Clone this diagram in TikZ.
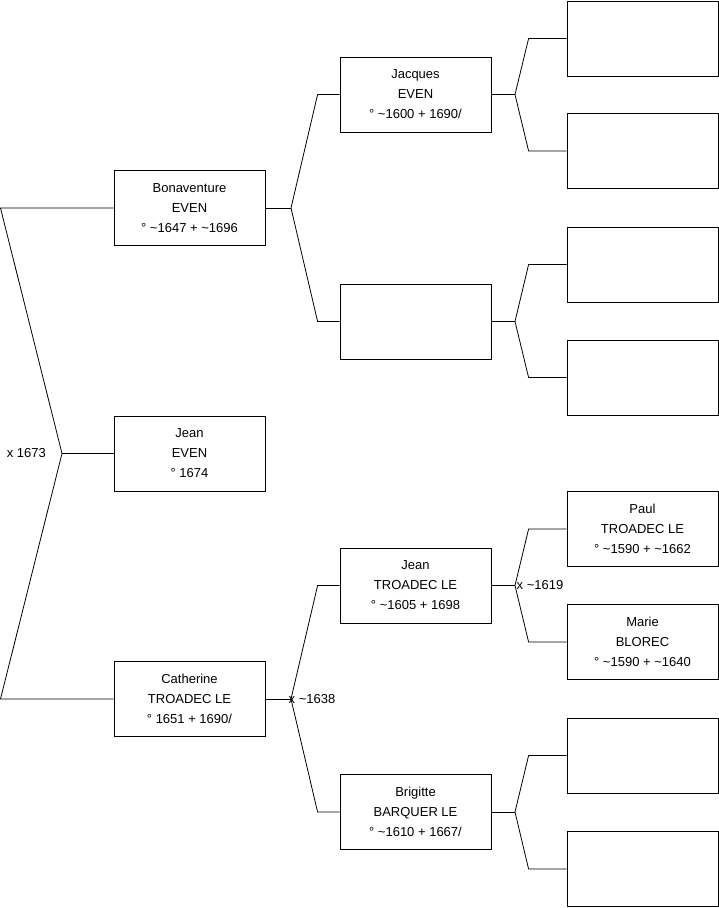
\documentclass[tikz,border=0pt]{standalone}
\usepackage{fontspec}
\setmainfont{Liberation Sans}
\usetikzlibrary{positioning}
\newcommand{\ca}{\textasciitilde}

\begin{document}
\begin{tikzpicture}[
    x=1pt, y=-1pt,
    person/.style={
        rectangle, draw, line width=0.8pt,
        minimum width=151pt, minimum height=75pt,
        align=center, font=\fontsize{13}{20}\selectfont, text=black
    },
    link/.style={line width=0.8pt},
    marr/.style={font=\fontsize{13}{14}\selectfont, inner sep=0pt}
]
\useasboundingbox (0,0) rectangle (719,908);

% --- generation 1 ---
\node[person] (bonav) at (189.5,208)   {Bonaventure\\EVEN\\° \ca1647 + \ca1696};
\node[person] (jeanE) at (189.5,453.5) {Jean\\EVEN\\° 1674};
\node[person] (cath)  at (189.5,699)   {Catherine\\TROADEC LE\\° 1651 + 1690/};

% --- generation 2 ---
\node[person] (jacq)  at (415.5,94.5)  {Jacques\\EVEN\\° \ca1600 + 1690/};
\node[person] (evenm) at (415.5,321.5) {};
\node[person] (jeanT) at (415.5,585.5) {Jean\\TROADEC LE\\° \ca1605 + 1698};
\node[person] (brig)  at (415.5,812)   {Brigitte\\BARQUER LE\\° \ca1610 + 1667/};

% --- generation 3 ---
\node[person] (g1) at (642.5,38.5)  {};
\node[person] (g2) at (642.5,151)   {};
\node[person] (g3) at (642.5,264.5) {};
\node[person] (g4) at (642.5,377.5) {};
\node[person] (paul)  at (642.5,529) {Paul\\TROADEC LE\\° \ca1590 + \ca1662};
\node[person] (marie) at (642.5,642) {Marie\\BLOREC\\° \ca1590 + \ca1640};
\node[person] (g7) at (642.5,755.5) {};
\node[person] (g8) at (642.5,869)   {};

% --- fork points ---
\coordinate (lt) at (0.5,208);
\coordinate (lb) at (0.5,699);
\coordinate (f0) at (62,453.5);
\coordinate (f1) at (291,208);
\coordinate (f2) at (291,699);
\coordinate (f3) at (515,94.5);
\coordinate (f4) at (515,321.5);
\coordinate (f5) at (515,585.5);
\coordinate (f6) at (515,812);

% --- parents of Jean EVEN ---
\draw[link] (bonav.west) -- (lt) -- (f0) -- (lb) -- (cath.west);
\draw[link] (f0) -- (jeanE.west);
\node[marr, anchor=east] (m0) at ([xshift=-16pt]f0) {x 1673};

% --- generation 1 -> 2 ---
\draw[link] (bonav.east) -- (f1);
\draw[link] (jacq.west) -- ++(-22,0) -- (f1) -- ([xshift=-22pt]evenm.west) -- (evenm.west);
\draw[link] (cath.east) -- (f2);
\draw[link] (jeanT.west) -- ++(-22,0) -- (f2) -- ([xshift=-22pt]brig.west) -- (brig.west);
\node[marr, anchor=west] (m2) at ([xshift=-2.5pt]f2) {x \ca1638};

% --- generation 2 -> 3 ---
\foreach \c/\f/\u/\d in {jacq/f3/g1/g2, evenm/f4/g3/g4, jeanT/f5/paul/marie, brig/f6/g7/g8}{
  \draw[link] (\c.east) -- (\f);
  \draw[link] (\u.west) -- ++(-38,0) -- (\f) -- ([xshift=-38pt]\d.west) -- (\d.west);
}
\node[marr, anchor=west] (m5) at ([xshift=1.5pt]f5) {x \ca1619};

\end{tikzpicture}
\end{document}
